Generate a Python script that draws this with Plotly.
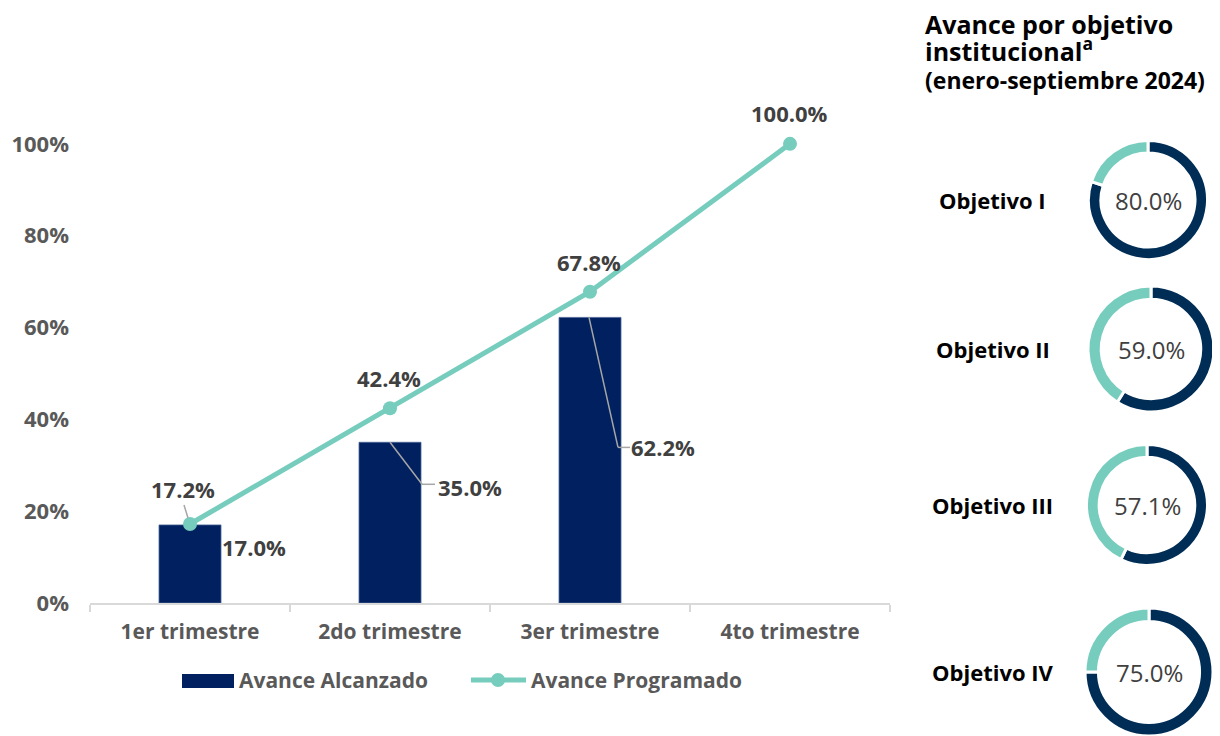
import plotly.graph_objects as go

W, H = 1220, 736
OX, OY = 8, 8  # page offset of the plot inside the browser window

trimestres = ["1er trimestre", "2do trimestre", "3er trimestre", "4to trimestre"]
alcanzado = [0.170, 0.350, 0.622]
programado = [0.172, 0.424, 0.678, 1.000]

objetivos = ["Objetivo I", "Objetivo II", "Objetivo III", "Objetivo IV"]
avance_obj = [0.800, 0.590, 0.571, 0.750]

y_ticks = [0, 0.2, 0.4, 0.6, 0.8, 1.0]

BAR = "#00205F"
TEAL = "#76CDBD"
DARK = "#002D56"
GREY = "#595959"
LBL = "#404040"
LEADER = "#A6A6A6"

FONT = "Open Sans, Roboto, sans-serif"


def px(x):
    return (x - OX) / W


def py(y):
    return (H - (y - OY)) / H


fig = go.Figure()

fig.add_trace(go.Bar(
    x=trimestres[:len(alcanzado)], y=alcanzado, name="Avance Alcanzado",
    marker=dict(color=BAR, line=dict(color="#4A6496", width=0.8)),
    width=0.31, hoverinfo="skip", showlegend=False,
))
fig.add_trace(go.Scatter(
    x=trimestres, y=programado, name="Avance Programado", mode="lines+markers",
    line=dict(color=TEAL, width=5), marker=dict(color=TEAL, size=14),
    hoverinfo="skip", showlegend=False,
))

# line labels
line_shift = [(-7, 35), (-1, 30), (-1, 30), (-1, 31)]
for i, v in enumerate(programado):
    fig.add_annotation(x=i, y=v, xref="x", yref="y", text=f"<b>{v*100:.1f}%</b>",
                       showarrow=False, xanchor="center", yanchor="middle",
                       xshift=line_shift[i][0], yshift=line_shift[i][1],
                       font=dict(family=FONT, size=22, color=LBL))

# bar labels
bar_shift = [(64, -22), (80, -45), (73, -130)]
for i, v in enumerate(alcanzado):
    fig.add_annotation(x=i, y=v, xref="x", yref="y", text=f"<b>{v*100:.1f}%</b>",
                       showarrow=False, xanchor="center", yanchor="middle",
                       xshift=bar_shift[i][0], yshift=bar_shift[i][1],
                       font=dict(family=FONT, size=22, color=LBL))


# leader lines (pixel offsets from data anchors)
def leader(i, v, pts):
    for (a, b), (c, d) in zip(pts[:-1], pts[1:]):
        fig.add_shape(type="line", xref="x", yref="y", xsizemode="pixel", ysizemode="pixel",
                      xanchor=i, yanchor=v, x0=a, y0=b, x1=c, y1=d,
                      line=dict(color=LEADER, width=1.5))


leader(0, programado[0], [(-6, 19), (-2, 6)])
leader(1, alcanzado[1], [(0, 0), (32, -42), (45, -42)])
leader(2, alcanzado[2], [(-1, 0), (28, -130), (40, -130)])

# custom legend
fig.add_shape(type="rect", xref="paper", yref="paper", x0=px(182), x1=px(234), y0=py(688), y1=py(674),
              fillcolor=BAR, line=dict(width=0))
fig.add_shape(type="line", xref="paper", yref="paper", x0=px(471), x1=px(526), y0=py(680), y1=py(680),
              line=dict(color=TEAL, width=5))
fig.add_shape(type="circle", xref="paper", yref="paper", x0=px(491), x1=px(505), y0=py(687), y1=py(673),
              fillcolor=TEAL, line=dict(width=0))
fig.add_annotation(x=px(237), y=py(680), xref="paper", yref="paper", xanchor="left", yanchor="middle",
                   text="<b>Avance Alcanzado</b>", showarrow=False,
                   font=dict(family=FONT, size=21, color=GREY))
fig.add_annotation(x=px(529), y=py(680), xref="paper", yref="paper", xanchor="left", yanchor="middle",
                   text="<b>Avance Programado</b>", showarrow=False,
                   font=dict(family=FONT, size=21, color=GREY))

fig.update_layout(
    width=W, height=H, margin=dict(l=0, r=0, t=0, b=0, autoexpand=False),
    paper_bgcolor="white", plot_bgcolor="white",
    showlegend=False,
    xaxis=dict(domain=[px(90), px(890)], type="category", range=[-0.5, 3.5], showgrid=False,
               showline=True, linecolor="#D9D9D9", linewidth=1.5,
               ticks="outside", tickson="boundaries", ticklen=7, tickcolor="#D9D9D9", tickwidth=1.5,
               tickfont=dict(family=FONT, size=21, color=GREY, weight="bold"),
               ticklabelstandoff=9, fixedrange=True),
    yaxis=dict(domain=[py(603), py(52)], range=[0, 1.2], showgrid=False,
               showline=False, zeroline=False, tickvals=y_ticks, tickformat=".0%",
               tickfont=dict(family=FONT, size=22, color=GREY, weight="bold"),
               ticklabelstandoff=20, fixedrange=True),
)

# donuts
donut_geom = [  # (cx, cy, diameter) in px
    (1148, 200, 119),
    (1151, 349, 126),
    (1147, 505, 121),
    (1149, 672, 128),
]
for k, (name, v) in enumerate(zip(objetivos, avance_obj)):
    cx, cy, d = donut_geom[k]
    xd = [px(cx - d / 2), px(cx + d / 2)]
    yd = [max(0, py(cy + d / 2)), min(1, py(cy - d / 2))]
    fig.add_trace(go.Pie(
        values=[v, 1 - v], labels=["Avance", "Restante"], hole=0.79, sort=False,
        direction="clockwise", rotation=0,
        marker=dict(colors=[DARK, TEAL], line=dict(color="white", width=3)),
        textinfo="none", hoverinfo="skip", showlegend=False,
        domain=dict(x=xd, y=yd),
    ))
    fig.add_annotation(x=px(cx), y=py(cy), xref="paper", yref="paper",
                       xanchor="center", yanchor="middle",
                       text=f"{v*100:.1f}%", showarrow=False,
                       font=dict(family=FONT, size=24, color=LBL))
    fig.add_annotation(x=px(993), y=py(cy), xref="paper", yref="paper",
                       xanchor="center", yanchor="middle",
                       text=f"<b>{name}</b>", showarrow=False,
                       font=dict(family=FONT, size=22, color="black"))

# title
fig.add_annotation(x=px(924), y=py(24), xref="paper", yref="paper", xanchor="left", yanchor="middle",
                   text="<b>Avance por objetivo</b>", showarrow=False, align="left", borderpad=0,
                   font=dict(family=FONT, size=25, color="black"))
fig.add_annotation(x=px(924), y=py(50), xref="paper", yref="paper", xanchor="left", yanchor="middle",
                   text="<b>institucional<sup>a</sup></b>", showarrow=False, align="left", borderpad=0,
                   font=dict(family=FONT, size=25, color="black"))
fig.add_annotation(x=px(924), y=py(80), xref="paper", yref="paper", xanchor="left", yanchor="middle",
                   text="<b>(enero-septiembre 2024)</b>", showarrow=False, align="left", borderpad=0,
                   font=dict(family=FONT, size=23, color="black"))

fig.write_html("out.html")
